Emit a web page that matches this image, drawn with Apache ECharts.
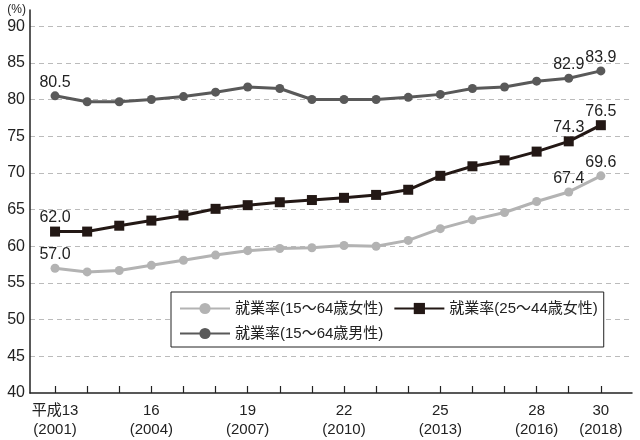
<!DOCTYPE html>
<html><head><meta charset="utf-8">
<script src="https://cdn.jsdelivr.net/npm/echarts@6/dist/echarts.min.js"></script>
<style>html,body{margin:0;padding:0;background:#fff}#c{width:640px;height:440px}</style>
</head><body><div id="c"></div>
<script>
const years = [2001,2002,2003,2004,2005,2006,2007,2008,2009,2010,2011,2012,2013,2014,2015,2016,2017,2018];
const tickLabels = {2001:'平成13\n(2001)',2004:'16\n(2004)',2007:'19\n(2007)',2010:'22\n(2010)',2013:'25\n(2013)',2016:'28\n(2016)',2018:'30\n(2018)'};
const labelYears = [2001,2004,2007,2010,2013,2016,2018];
const seriesNames = ['就業率(15～64歳女性)','就業率(25～44歳女性)','就業率(15～64歳男性)'];
const female1564 = [57.0,56.5,56.7,57.4,58.1,58.8,59.4,59.7,59.8,60.1,60.0,60.8,62.4,63.6,64.6,66.1,67.4,69.6];
const female2544 = [62.0,62.0,62.8,63.5,64.2,65.1,65.6,66.0,66.3,66.6,67.0,67.7,69.6,70.9,71.7,72.9,74.3,76.5];
const male1564 = [80.5,79.7,79.7,80.0,80.4,81.0,81.7,81.5,80.0,80.0,80.0,80.3,80.7,81.5,81.7,82.5,82.9,83.9];
const labeledIdx = [0,16,17];

const font = '"Liberation Sans","Noto Sans CJK JP",sans-serif';
function pts(vals){
  return vals.map((v,i)=>({value:[years[i],v], label:{show: labeledIdx.includes(i)}}));
}
const lbl = {position:'top', distance:1, fontSize:16, color:'#222', fontFamily:font, formatter:p=>p.value[1].toFixed(1)};
const chart = echarts.init(document.getElementById('c'));
chart.setOption({
  animation:false,
  textStyle:{fontFamily:font},
  grid:{left:30,right:8,top:10,bottom:47},
  xAxis:{type:'value',min:2000.22,max:2018.97,
    axisLine:{show:true,lineStyle:{color:'#222',width:1.5}},
    axisTick:{show:true,inside:true,length:7,customValues:years,lineStyle:{color:'#222',width:1.2}},
    axisLabel:{customValues:labelYears,formatter:v=>tickLabels[v]||'',fontSize:15,color:'#222',lineHeight:19,margin:8,fontFamily:font},
    splitLine:{show:false}},
  yAxis:{type:'value',min:40,max:92.2,interval:5,
    name:'(%)',nameLocation:'end',nameGap:-6,nameTextStyle:{fontSize:12,color:'#222',align:'right',padding:[0,4,0,0],fontFamily:font},
    axisLine:{show:true,lineStyle:{color:'#222',width:1.5}},
    axisTick:{show:false},
    axisLabel:{fontSize:16,color:'#222',margin:5,fontFamily:font,formatter:v=>(v%5===0?String(v):'')},
    splitLine:{show:true,showMinLine:false,showMaxLine:false,lineStyle:{color:'#bbb',type:[5,4],width:1}}},
  legend:{data:seriesNames,left:171,top:292,width:450,
    backgroundColor:'#fff',borderColor:'#222',borderWidth:1,borderRadius:0,
    padding:[9,6,6,8],itemWidth:50,itemHeight:14,itemGap:10,
    textStyle:{fontSize:15,color:'#222',fontFamily:font,padding:[0,10,0,0]}},
  series:[
    {name:seriesNames[0],type:'line',data:pts(female1564),symbol:'circle',symbolSize:9,
      itemStyle:{color:'#b3b3b3'},lineStyle:{color:'#b3b3b3',width:3},label:lbl,z:2},
    {name:seriesNames[1],type:'line',data:pts(female2544),symbol:'rect',symbolSize:10,
      itemStyle:{color:'#231815'},lineStyle:{color:'#231815',width:3},label:lbl,z:3},
    {name:seriesNames[2],type:'line',data:pts(male1564),symbol:'circle',symbolSize:9,
      itemStyle:{color:'#595959'},lineStyle:{color:'#595959',width:3},label:lbl,z:2}
  ]
});
</script></body></html>
